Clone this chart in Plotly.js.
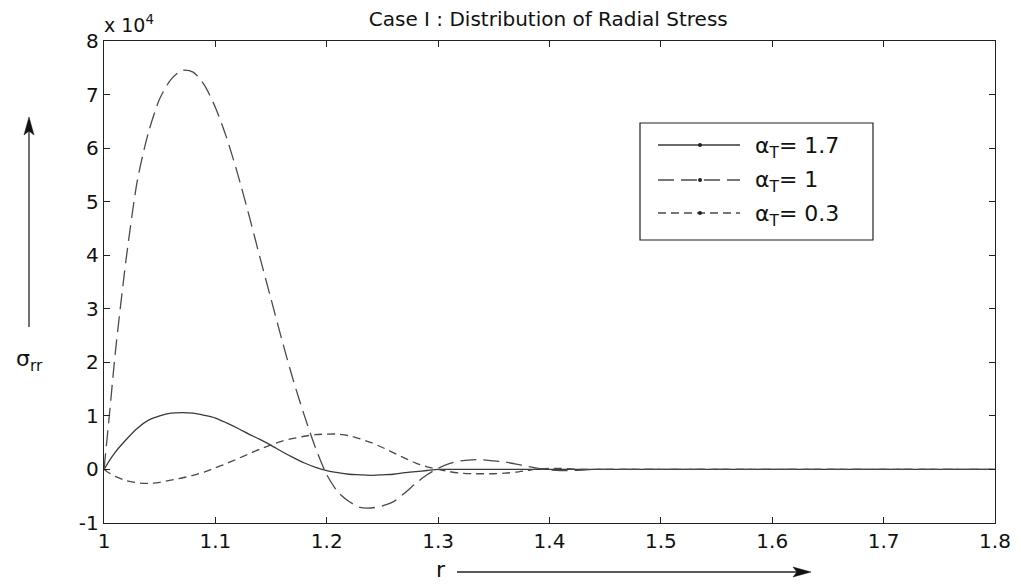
<!DOCTYPE html>
<html>
<head>
<meta charset="utf-8">
<script src="https://cdn.plot.ly/plotly-3.0.1.min.js"></script>
<style>html,body{margin:0;padding:0;background:#fff;}#chart{width:1021px;height:587px;}</style>
</head>
<body>
<div id="chart"></div>
<script>
// radius r
var r = [1.000, 1.005, 1.01, 1.02, 1.03, 1.04, 1.05, 1.06, 1.07, 1.08, 1.09,
         1.10, 1.11, 1.12, 1.13, 1.14, 1.15, 1.16, 1.17, 1.18, 1.19,
         1.20, 1.21, 1.22, 1.23, 1.24, 1.25, 1.26, 1.27, 1.28, 1.29,
         1.30, 1.31, 1.32, 1.33, 1.34, 1.35, 1.36, 1.37, 1.38, 1.39,
         1.40, 1.41, 1.42, 1.43, 1.44, 1.45, 1.50, 1.60, 1.70, 1.80];
// sigma_rr (x 10^4), alpha_T = 1.7
var s17 = [0, 0.17, 0.32, 0.56, 0.77, 0.92, 1.00, 1.05, 1.06, 1.05, 1.01,
           0.96, 0.87, 0.77, 0.66, 0.56, 0.45, 0.33, 0.22, 0.12, 0.04,
           -0.02, -0.06, -0.09, -0.10, -0.11, -0.10, -0.09, -0.06, -0.04, -0.02,
           0, 0, 0, 0, 0, 0, 0, 0, 0, 0,
           0, 0, 0, 0, 0, 0, 0, 0, 0, 0];
// alpha_T = 1
var s10 = [0, 1.05, 2.15, 3.95, 5.40, 6.30, 6.92, 7.28, 7.45, 7.42, 7.18,
           6.76, 6.20, 5.52, 4.76, 3.96, 3.18, 2.40, 1.66, 1.00, 0.40,
           -0.10, -0.42, -0.60, -0.71, -0.72, -0.68, -0.60, -0.44, -0.26, -0.10,
           0.02, 0.11, 0.16, 0.18, 0.18, 0.16, 0.14, 0.10, 0.06, 0.02,
           -0.01, -0.02, -0.02, -0.01, 0, 0, 0, 0, 0, 0];
// alpha_T = 0.3
var s03 = [0, -0.07, -0.13, -0.21, -0.25, -0.26, -0.24, -0.20, -0.16, -0.11, -0.05,
           0.03, 0.11, 0.20, 0.29, 0.38, 0.46, 0.53, 0.58, 0.62, 0.65,
           0.66, 0.66, 0.63, 0.57, 0.50, 0.41, 0.31, 0.21, 0.12, 0.05,
           0, -0.04, -0.07, -0.08, -0.08, -0.08, -0.07, -0.05, -0.02, 0.01,
           0.02, 0.02, 0.01, 0, 0, 0, 0, 0, 0, 0];

var names = ['α<sub>T</sub>= 1.7', 'α<sub>T</sub>= 1', 'α<sub>T</sub>= 0.3'];
var xTicks = [1, 1.1, 1.2, 1.3, 1.4, 1.5, 1.6, 1.7, 1.8];
var yTicks = [-1, 0, 1, 2, 3, 4, 5, 6, 7, 8];

var series = [s17, s10, s03];
var colors = ['#3a3a3a', '#4a4a4a', '#4a4a4a'];
var dashes = ['solid', '16px,7px', '8px,5px'];

var FONT = 'DejaVu Sans, Liberation Sans, Arial, sans-serif';

var traces = series.map(function (s, i) {
  return {
    x: r, y: s, type: 'scatter', mode: 'lines', name: names[i],
    line: {color: colors[i], width: 1.3, dash: dashes[i], shape: 'spline', smoothing: 0.7},
    showlegend: false, hoverinfo: 'skip'
  };
});

// plot area in pixels: x 104..995, y 41..523
var L = 104, R = 995, T = 41, B = 523;
function px(x) { return (x - L) / (R - L); }
function py(y) { return (B - y) / (B - T); }
function path(pts) {
  return pts.map(function (p, k) { return (k ? 'L' : 'M') + px(p[0]).toFixed(5) + ',' + py(p[1]).toFixed(5); }).join(' ') + ' Z';
}

var shapes = [
  {type: 'rect', xref: 'paper', yref: 'paper', x0: px(640), x1: px(873), y0: py(240), y1: py(123),
   line: {color: '#222', width: 1.2}, fillcolor: 'rgba(255,255,255,1)', layer: 'above'}
];
var annotations = [];
var rowY = [145, 180, 213];
for (var i = 0; i < 3; i++) {
  shapes.push({type: 'line', xref: 'paper', yref: 'paper', x0: px(658), x1: px(740), y0: py(rowY[i]), y1: py(rowY[i]),
    line: {color: colors[i], width: 1.3, dash: dashes[i]}, layer: 'above'});
  shapes.push({type: 'circle', xref: 'paper', yref: 'paper', x0: px(698), x1: px(702), y0: py(rowY[i] + 2), y1: py(rowY[i] - 2),
    line: {color: '#222', width: 0}, fillcolor: '#222', layer: 'above'});
  annotations.push({xref: 'paper', yref: 'paper', x: px(753), y: py(rowY[i] + 2), xanchor: 'left', yanchor: 'middle',
    text: names[i], showarrow: false, font: {family: FONT, size: 22, color: '#111'}});
}
// multiplier
annotations.push({xref: 'paper', yref: 'paper', x: px(102), y: py(24), xanchor: 'left', yanchor: 'middle',
  text: 'x 10<sup>4</sup>', showarrow: false, font: {family: FONT, size: 19, color: '#111'}});
// y axis label
annotations.push({xref: 'paper', yref: 'paper', x: px(29), y: py(360), xanchor: 'center', yanchor: 'middle',
  text: 'σ<sub>rr</sub>', showarrow: false, font: {family: FONT, size: 22, color: '#111'}});
// x axis label
annotations.push({xref: 'paper', yref: 'paper', x: px(441), y: py(569), xanchor: 'center', yanchor: 'middle',
  text: 'r', showarrow: false, font: {family: FONT, size: 22, color: '#111'}});

// arrows drawn as shapes
shapes.push({type: 'line', xref: 'paper', yref: 'paper', x0: px(29), x1: px(29), y0: py(327), y1: py(128),
  line: {color: '#222', width: 1.3}});
shapes.push({type: 'path', xref: 'paper', yref: 'paper', path: path([[29, 117], [24, 135], [29, 131], [34, 135]]),
  fillcolor: '#111', line: {color: '#111', width: 0.5}});
shapes.push({type: 'line', xref: 'paper', yref: 'paper', x0: px(457), x1: px(800), y0: py(572), y1: py(572),
  line: {color: '#222', width: 1.3}});
shapes.push({type: 'path', xref: 'paper', yref: 'paper', path: path([[811, 572], [793, 567], [797, 572], [793, 577]]),
  fillcolor: '#111', line: {color: '#111', width: 0.5}});

var layout = {
  width: 1021, height: 587,
  margin: {l: L, r: 1021 - R, t: T, b: 587 - B},
  paper_bgcolor: '#fff', plot_bgcolor: '#fff',
  title: {text: 'Case I : Distribution of Radial Stress', x: 0.537, xanchor: 'center', y: 0.968, yanchor: 'middle',
          font: {family: FONT, size: 20, color: '#111'}},
  xaxis: {range: [1, 1.8], tickvals: xTicks, ticktext: xTicks.map(String), ticks: 'inside', ticklen: 6,
          tickcolor: '#222', showline: true, linecolor: '#222', linewidth: 1.2, mirror: 'allticks',
          showgrid: false, zeroline: false, tickfont: {family: FONT, size: 20, color: '#111'}},
  yaxis: {range: [-1, 8], tickvals: yTicks, ticktext: yTicks.map(String), ticks: 'inside', ticklen: 6,
          tickcolor: '#222', showline: true, linecolor: '#222', linewidth: 1.2, mirror: 'allticks',
          showgrid: false, zeroline: false, tickfont: {family: FONT, size: 20, color: '#111'}},
  shapes: shapes,
  annotations: annotations,
  showlegend: false
};

Plotly.newPlot('chart', traces, layout, {displayModeBar: false, staticPlot: true});
</script>
</body>
</html>
